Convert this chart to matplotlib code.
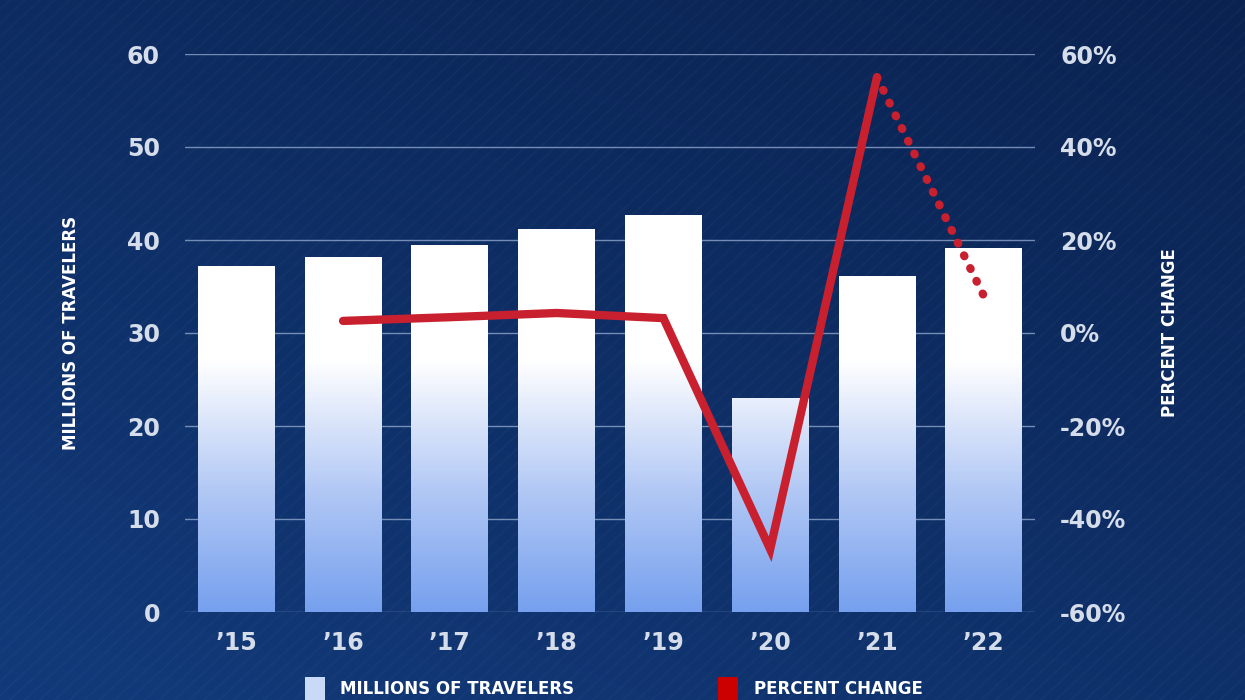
import numpy as np
import matplotlib.pyplot as plt
from matplotlib.colors import LinearSegmentedColormap
from matplotlib.patches import Rectangle

years = ["’15", "’16", "’17", "’18", "’19", "’20", "’21", "’22"]
travelers = [37.2, 38.2, 39.5, 41.2, 42.7, 23.0, 36.1, 39.1]
pct_years = [1, 2, 3, 4, 5, 6]
pct_change = [2.6, 3.4, 4.3, 3.2, -46.5, 55.0]
proj_years = [6, 7]
proj_change = [55.0, 8.0]

W, H = 1245, 700
fig = plt.figure(figsize=(W / 100, H / 100), dpi=100)

# background gradient with faint diagonal stripes
bg = fig.add_axes([0, 0, 1, 1], zorder=-10)
yy, xx = np.mgrid[0:1:200j, 0:1:200j]
bgcmap = LinearSegmentedColormap.from_list("bg", ["#0a2250", "#123a7a"])
bg.imshow(0.6 * yy + 0.4 * (1 - xx), cmap=bgcmap, aspect="auto", extent=[0, 1, 0, 1])
for k in np.arange(-1, 2, 0.012):
    bg.plot([k, k + 0.6], [0, 1], color="#ffffff", alpha=0.025, lw=1.5)
bg.set_xlim(0, 1); bg.set_ylim(0, 1); bg.axis("off")

ax = fig.add_axes([185 / W, 88 / H, 850 / W, 558 / H])
ax.patch.set_alpha(0)
ax.set_yticks(range(0, 61, 10))
ax.grid(axis="y", color="#8fa6cc", lw=1, alpha=0.8)
ax.set_axisbelow(True)
for s in ax.spines.values():
    s.set_visible(False)
ax.tick_params(length=0, labelsize=17, colors="#d5dcea", pad=18)
ax.tick_params(axis="x", pad=14)
ax.set_xticks(range(len(years)))
ax.set_xticklabels(years, fontweight="bold")
for lb in ax.get_yticklabels():
    lb.set_fontweight("bold")
ax.set_ylabel("MILLIONS OF TRAVELERS", color="white", fontsize=12, fontweight="bold", labelpad=34)

barcmap = LinearSegmentedColormap.from_list(
    "bar", [(0, "#76a0ee"), (0.22, "#b3c9f5"), (0.45, "#ffffff"), (1, "#ffffff")])
grad = np.linspace(0, 1, 256).reshape(-1, 1)
bw = 0.72
for i, v in enumerate(travelers):
    r = Rectangle((i - bw / 2, 0), bw, v, transform=ax.transData, facecolor="none", edgecolor="none")
    ax.add_patch(r)
    im = ax.imshow(grad, cmap=barcmap, aspect="auto", origin="lower",
                   extent=[i - bw / 2, i + bw / 2, 0, 60], zorder=2)
    im.set_clip_path(r)
ax.set_xlim(-0.48, 7.48)
ax.set_ylim(0, 60)

ax2 = ax.twinx()
ax2.set_ylim(-60, 60)
ax2.set_yticks(range(-60, 61, 20))
ax2.set_yticklabels([f"{t}%" for t in range(-60, 61, 20)], fontweight="bold")
for s in ax2.spines.values():
    s.set_visible(False)
ax2.tick_params(length=0, labelsize=17, colors="#d5dcea", pad=18)
ax2.set_ylabel("PERCENT CHANGE", color="white", fontsize=12, fontweight="bold", labelpad=25)
ax2.plot(pct_years, pct_change, color="#c8202e", lw=6, solid_capstyle="round", solid_joinstyle="miter", zorder=5)
ax2.plot(proj_years, proj_change, color="#c8202e", lw=6, linestyle=(0, (0.1, 1.6)),
         dash_capstyle="round", zorder=5)

# legend at bottom edge
fig.patches.append(Rectangle((305 / W, -0.01), 20 / W, 30 / H, transform=fig.transFigure,
                             facecolor="#c9d9f8", edgecolor="none"))
fig.text(340 / W, 0.003, "MILLIONS OF TRAVELERS", color="white", fontsize=12, fontweight="bold", va="bottom")
fig.patches.append(Rectangle((718 / W, -0.01), 20 / W, 30 / H, transform=fig.transFigure,
                             facecolor="#cc0000", edgecolor="none"))
fig.text(754 / W, 0.003, "PERCENT CHANGE", color="white", fontsize=12, fontweight="bold", va="bottom")

fig.savefig("out.png", dpi=100)
